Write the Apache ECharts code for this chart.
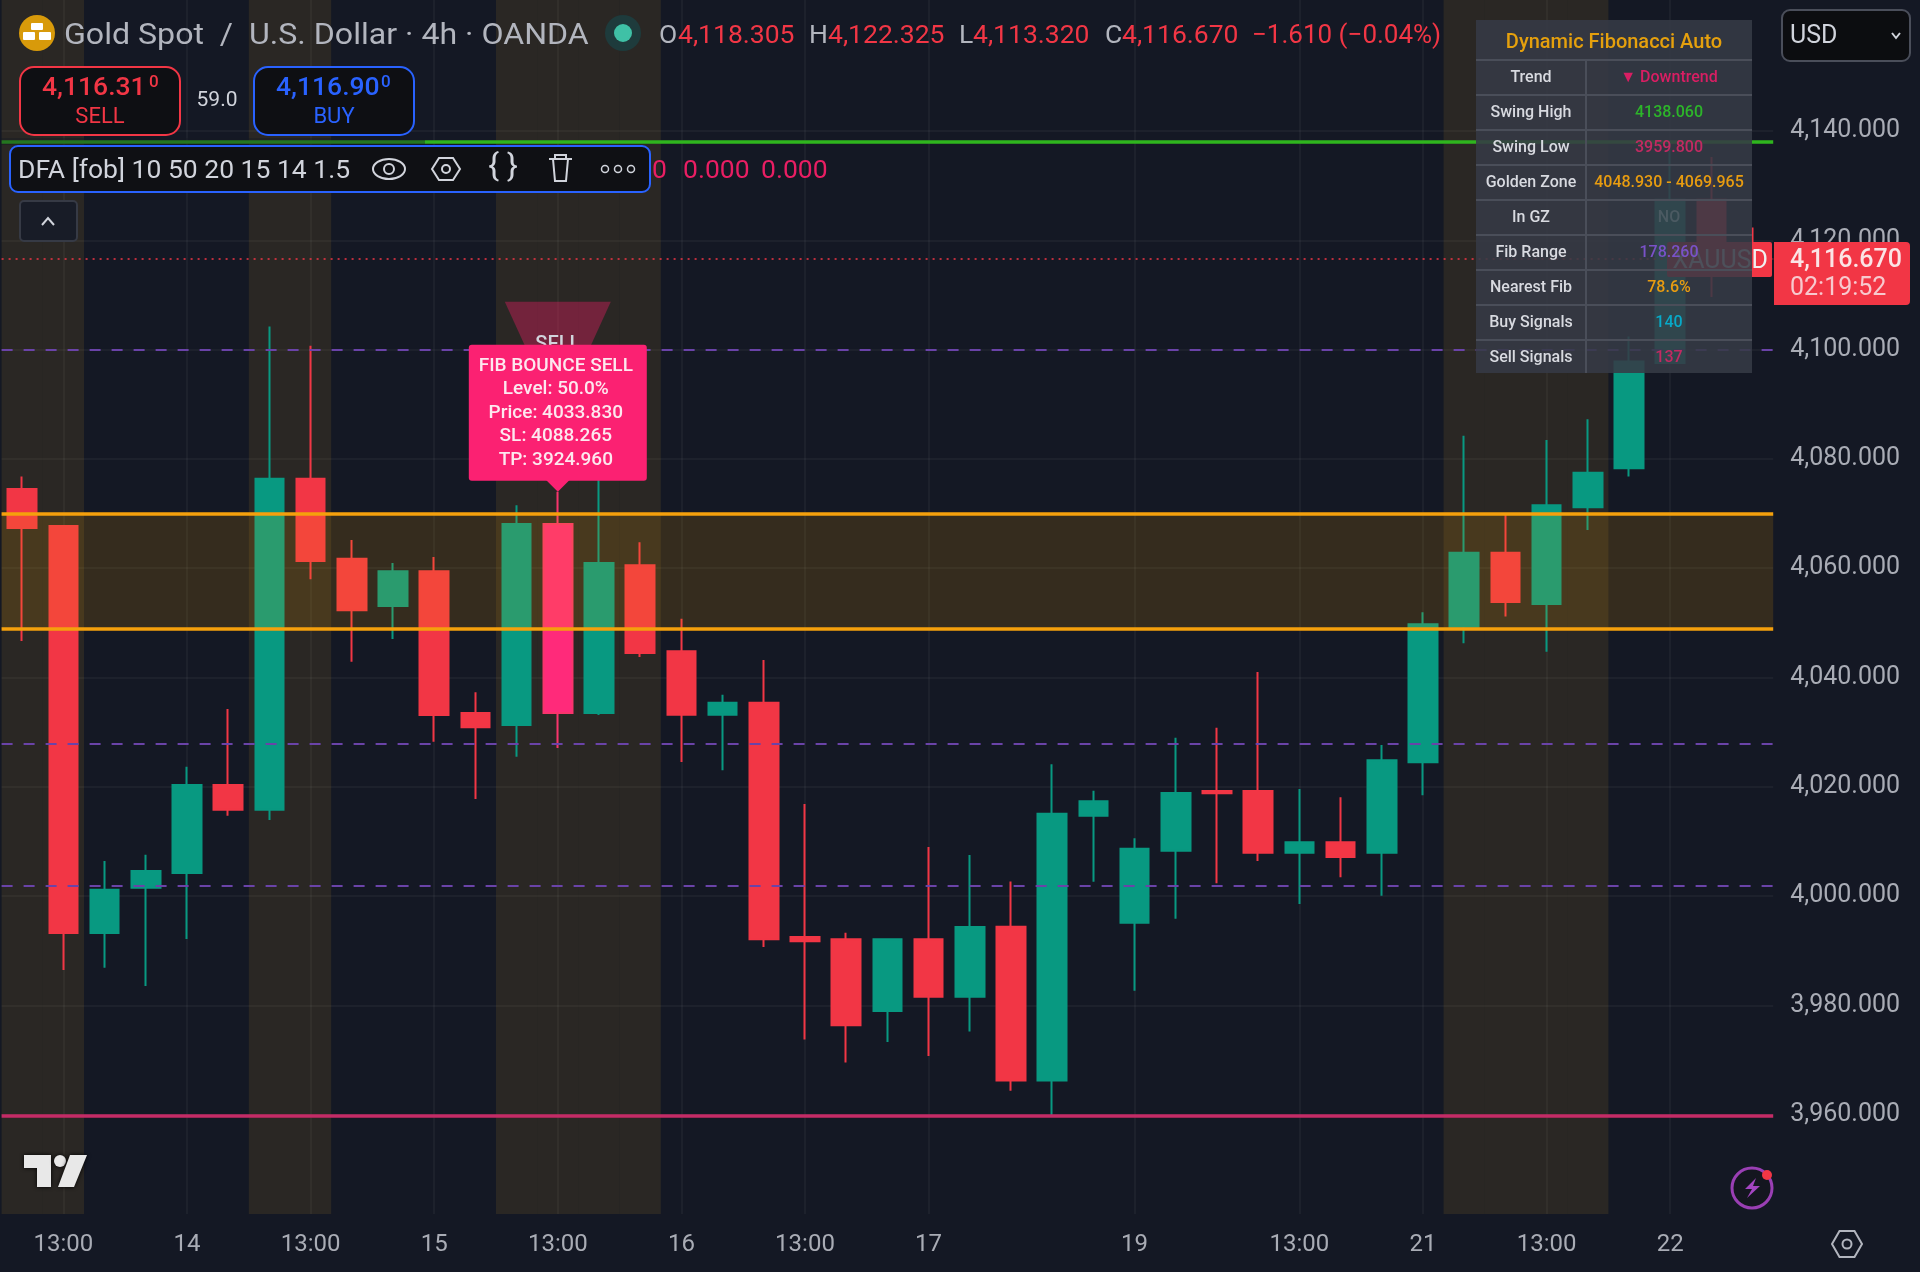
<!DOCTYPE html>
<html>
<head>
<meta charset="utf-8">
<title>Gold Spot / U.S. Dollar 4h</title>
<script src="https://cdn.jsdelivr.net/npm/echarts@6/dist/echarts.min.js"></script>
<style>
html,body{margin:0;padding:0;background:#141824;}
#chart{width:1920px;height:1272px;}
</style>
</head>
<body>
<div id="chart"></div>
<script>
// x axis labels, one per bar ('' = no label)
var timeLabels = ['','13:00','','','14','','','13:00','','','15','','','13:00','','','16','','','13:00','','','17','','','','','19','','','','13:00','','','21','','','13:00','','','22','',''];

// [open, close, low, high]
var candles = [
    [4074.50,4067.36,4046.68,4076.75],
    [4067.72,3993.24,3986.47,4067.72],
    [3993.24,4001.16,3986.89,4006.41],
    [4001.53,4004.58,3983.54,4007.57],
    [4004.22,4020.32,3992.14,4023.67],
    [4020.32,4015.80,4014.70,4034.23],
    [4015.80,4076.38,4013.92,4104.20],
    [4076.38,4061.32,4057.97,4100.72],
    [4061.74,4052.30,4042.89,4065.16],
    [4053.08,4059.43,4047.04,4060.95],
    [4059.43,4033.13,4028.25,4062.05],
    [4033.50,4030.88,4017.76,4037.29],
    [4031.30,4068.09,4025.50,4071.51],
    [4068.09,4033.50,4027.10,4074.00],
    [4033.50,4060.95,4033.13,4077.97],
    [4060.53,4044.48,4043.75,4064.72],
    [4044.77,4033.19,4024.53,4050.74],
    [4033.19,4035.35,4023.03,4036.85],
    [4035.35,3992.10,3990.67,4043.20],
    [3992.50,3991.74,3973.73,4016.85],
    [3992.10,3976.34,3969.55,3993.29],
    [3978.96,3992.10,3973.29,3992.10],
    [3992.10,3981.58,3970.74,4008.98],
    [3981.58,3994.34,3975.23,4007.51],
    [3994.39,3966.24,3964.36,4002.64],
    [3966.24,4015.07,3959.93,4024.11],
    [4014.70,4017.34,4002.63,4019.28],
    [3995.12,4008.67,3982.68,4010.57],
    [4008.30,4018.86,3995.85,4028.98],
    [4019.23,4018.80,4002.33,4030.81],
    [4019.23,4007.93,4006.41,4041.00],
    [4007.93,4009.84,3998.54,4019.59],
    [4009.84,4007.15,4003.43,4018.07],
    [4007.93,4024.84,4000.06,4027.64],
    [4024.48,4049.73,4018.44,4051.93],
    [4049.29,4062.84,4046.26,4084.25],
    [4062.84,4053.82,4051.13,4069.92],
    [4053.45,4071.51,4044.72,4083.46],
    [4071.15,4077.48,4066.99,4087.25],
    [4078.29,4097.80,4076.75,4102.37],
    [4097.56,4127.40,4097.56,4138.06],
    [4127.40,4119.70,4109.63,4135.26],
    [4118.305,4116.67,4113.32,4122.325]
];

var priceTicks = [3960,3980,4000,4020,4040,4060,4080,4100,4120,4140];
var yMin = 3941.81, yMax = 4163.97;

var swingHigh = 4138.06, swingLow = 3959.8;
var goldenZone = [4048.93, 4069.965];
var fibLevels = [4099.91, 4027.90, 4001.87];
var lastPrice = 4116.67;

// bars inside the shaded sessions
var sessionBars = [0,1,6,7,12,13,14,15,35,36,37,38];
var signalBar = 13;

var tableTitle = 'Dynamic Fibonacci Auto';
var tableNames = ['Trend','Swing High','Swing Low','Golden Zone','In GZ','Fib Range','Nearest Fib','Buy Signals','Sell Signals'];
var tableValues = ['▼ Downtrend','4138.060','3959.800','4048.930 - 4069.965','NO','178.260','78.6%','140','137'];
var tableColors = ['#d91e63','#2db52a','#c22a62','#e89c10','#4b5a62','#7a52c8','#e89c10','#08a9c8','#c22a62'];
var signalLines = ['FIB BOUNCE SELL','Level: 50.0%','Price: 4033.830','SL: 4088.265','TP: 3924.960'];

var FONT = 'Roboto, "Liberation Sans", sans-serif';
var RED = '#f23645', GREEN = '#089981', BLUE = '#2962ff', PINK = '#e91e63', TOP = 100;

function text(x, y, str, size, fill, align, weight, z){
    return {type:'text', z:z||TOP+2, silent:true, style:{
        text:str, x:x, y:y+2, fill:fill, align:align||'left', verticalAlign:'middle',
        font:(weight||'normal')+' '+size+'px '+FONT
    }};
}
function rect(x, y, w, h, fill, stroke, r, lw, z){
    return {type:'rect', z:z||TOP, silent:true, shape:{x:x,y:y,width:w,height:h,r:r||0},
        style:{fill:fill||'none', stroke:stroke||'none', lineWidth:lw||1}};
}
function circle(x, y, r, fill, stroke, lw, z){
    return {type:'circle', z:z||TOP+1, silent:true, shape:{cx:x,cy:y,r:r},
        style:{fill:fill||'none', stroke:stroke||'none', lineWidth:lw||1}};
}
function poly(points, fill, stroke, lw, z){
    return {type:'polygon', z:z||TOP+1, silent:true, shape:{points:points},
        style:{fill:fill||'none', stroke:stroke||'none', lineWidth:lw||1}};
}
function pline(points, stroke, lw, z){
    return {type:'polyline', z:z||TOP+1, silent:true, shape:{points:points},
        style:{fill:'none', stroke:stroke, lineWidth:lw||2}};
}
function hexagon(cx, cy, rx, ry, stroke, lw){
    return poly([[cx-rx,cy],[cx-rx/2,cy-ry],[cx+rx/2,cy-ry],[cx+rx,cy],[cx+rx/2,cy+ry],[cx-rx/2,cy+ry]], null, stroke, lw);
}

function buildHeader(){
    var g = [];
    // symbol line
    g.push(circle(37,33,18,'#d89a0a'));
    g.push(rect(31,23,12,7,'#fff',null,1,1,TOP+2), rect(23,32,12,8,'#fff',null,1,1,TOP+2), rect(39,32,12,8,'#fff',null,1,1,TOP+2));
    var title = text(64,34,'Gold Spot  /  U.S. Dollar · 4h · OANDA',30,'#b2b5be');
    title.x = 64; title.style.x = 0; title.y = 0; title.scaleX = 1.07; title.originX = 0;
    g.push(title);
    g.push(circle(623,33,18,'#1e3b3c'), circle(623,33,9,'#3fc1a6',null,1,TOP+2));
    g.push(text(659,34,'O',26.5,'#b2b5be'), text(678,34,'4,118.305',26.5,RED));
    g.push(text(809,34,'H',26.5,'#b2b5be'), text(828,34,'4,122.325',26.5,RED));
    g.push(text(959,34,'L',26.5,'#b2b5be'), text(973,34,'4,113.320',26.5,RED));
    g.push(text(1105,34,'C',26.5,'#b2b5be'), text(1122,34,'4,116.670',26.5,RED));
    g.push(text(1252,34,'−1.610 (−0.04%)',26,RED));

    // sell / buy buttons
    g.push(rect(20,67,160,68,'#0e0f13',RED,14,2));
    g.push(text(42,86,'4,116.31',26.5,RED,'left','500'), text(149,81,'0',17,RED,'left','500'));
    g.push(text(100,115,'SELL',22,RED,'center'));
    g.push(text(217,99,'59.0',21,'#d1d4dc','center'));
    g.push(rect(254,67,160,68,'#0e0f13',BLUE,14,2));
    g.push(text(276,86,'4,116.90',26.5,BLUE,'left','500'), text(381,81,'0',17,BLUE,'left','500'));
    g.push(text(334,115,'BUY',22,BLUE,'center'));

    // dim the swing high line under the header
    g.push(rect(0,138,425,7,'rgba(20,24,36,0.4)',null,0,1,TOP-1));

    // indicator row
    g.push(text(652,169,'0',26.5,PINK), text(683,169,'0.000',26.5,PINK), text(761,169,'0.000',26.5,PINK));
    g.push(rect(10,146,640,46,'#0f1014',BLUE,8,2));
    g.push(text(18,169,'DFA [fob] 10 50 20 15 14 1.5',26.5,'#d1d4dc'));
    g.push({type:'ellipse', z:TOP+1, silent:true, shape:{cx:389,cy:169,rx:16,ry:10}, style:{fill:'none',stroke:'#d1d4dc',lineWidth:2}});
    g.push(circle(389,169,5,null,'#d1d4dc',2));
    g.push(hexagon(446,169,14,11,'#d1d4dc',2), circle(446,169,4,null,'#d1d4dc',2));
    g.push(text(503,166,'{ }',32,'#d1d4dc','center'));
    g.push(pline([[549,159],[572,159]],'#d1d4dc',2), pline([[555,159],[555,155],[566,155],[566,159]],'#d1d4dc',2));
    g.push(pline([[553,159],[555,181],[566,181],[568,159]],'#d1d4dc',2));
    g.push(circle(605,169,3.5,null,'#d1d4dc',1.5), circle(618,169,3.5,null,'#d1d4dc',1.5), circle(631,169,3.5,null,'#d1d4dc',1.5));

    // collapse button
    g.push(rect(20,201,57,40,'#181c27','#363a45',4,2));
    g.push(pline([[42,225],[48,218],[54,225]],'#d1d4dc',2));

    // currency select
    g.push(rect(1782,10,128,51,'#0c0d10','#4a4e5a',8,2));
    g.push(text(1790,35,'USD',25,'#d1d4dc'));
    g.push(pline([[1892,33],[1896,38],[1900,33]],'#d1d4dc',2));
    return g;
}

function buildPriceTag(){
    var g = [];
    var tagTop = 242;
    g.push(rect(1667,tagTop,105,35,RED,null,2,1,TOP-2));
    g.push(text(1768,tagTop+18,'XAUUSD',25,'#f0f0f0','right','normal',TOP-2));
    g.push({type:'rect', z:TOP, silent:true, shape:{x:1774,y:tagTop,width:136,height:63,r:[0,4,4,0]}, style:{fill:RED}});
    g.push(text(1790,259,lastPrice.toLocaleString('en-US',{minimumFractionDigits:3}),25,'#fbe4e6','left','500'));
    g.push(text(1790,287,'02:19:52',25,'#f7c9ce'));
    return g;
}

function buildTable(){
    var g = [], left = 1476, right = 1752, split = 1586, rowH = 35;
    g.push(rect(left,20,right-left,353,'rgba(54,58,69,0.88)',null,0,1,TOP));
    g.push(text((left+right)/2,41,tableTitle,20,'#e5a00d','center','500'));
    for (var i = 0; i < tableNames.length; i++) {
        var lineY = 60 + rowH*i, midY = 76 + rowH*i;
        g.push(rect(left,lineY-1,right-left,2,'#4a4e59',null,0,1,TOP+1));
        g.push(text(1531,midY,tableNames[i],16,'#d8dae0','center','500'));
        g.push(text(1669,midY,tableValues[i],16,tableColors[i],'center','500'));
    }
    g.push(rect(split-1,60,2,313,'#4a4e59',null,0,1,TOP+1));
    return g;
}

function buildCorners(){
    var g = [];
    // tv logo
    var logo = [
        poly([[24,1155],[51,1155],[51,1187],[37,1187],[37,1168],[24,1168]],'#e8e8e8'),
        circle(60,1161,6,'#e8e8e8'),
        poly([[70,1155],[87,1155],[74,1187],[58,1187]],'#e8e8e8')
    ];
    logo.forEach(function(el){ el.style.shadowBlur = 4; el.style.shadowColor = '#000'; g.push(el); });
    // lightning badge
    g.push(circle(1752,1188,20,'#14161f','#9a3fb4',3));
    g.push(poly([[1756,1178],[1745,1189],[1752,1189],[1747,1198],[1760,1186],[1753,1186]],'#a445c2'));
    g.push(circle(1767,1175,5,RED,null,1,TOP+2));
    // settings
    g.push(hexagon(1847,1244,15,13,'#b2b5be',2), circle(1847,1244,4.5,null,'#b2b5be',2));
    return g;
}

function renderSignal(params, api){
    var pt = api.coord([api.value(0), api.value(1)]);
    var x = pt[0], tip = pt[1];
    var kids = [
        {type:'polygon', shape:{points:[[x-53,tip-190],[x+53,tip-190],[x,tip-74]]}, style:{fill:'rgba(233,30,99,0.38)'}},
        {type:'text', style:{text:'SELL', x:x, y:tip-147, align:'center', verticalAlign:'middle', fill:'#d1d4dc', font:'500 20px '+FONT}},
        {type:'polygon', shape:{points:[[x-12,tip-12],[x+12,tip-12],[x,tip]]}, style:{fill:'#fb2172'}},
        {type:'rect', shape:{x:x-89,y:tip-147,width:178,height:136,r:3}, style:{fill:'#fb2172'}}
    ];
    signalLines.forEach(function(line, i){
        kids.push({type:'text', style:{text:line, x:x-2, y:tip-125.5+23.5*i, align:'center', verticalAlign:'middle', fill:'#fde8ef', font:'500 19px '+FONT}});
    });
    return {type:'group', children:kids};
}

var candleData = candles.map(function(c, i){
    if (i === signalBar) {
        return {value:c, itemStyle:{color:'#ff2a7a',color0:'#ff2a7a',borderColor:'#f8346c',borderColor0:'#f8346c'}};
    }
    return c;
});

var sessionData = timeLabels.map(function(l, i){
    return sessionBars.indexOf(i) > -1 ? yMax : null;
});

var grayLine = {color:'rgba(255,255,255,0.055)', width:1.5};
var hasLabel = function(i){ return !!timeLabels[i]; };
var levelStyle = function(color){ return {color:color, width:3.5, type:'solid'}; };
var fibStyle = {color:'#6a43a8', width:2, type:[11,11]};

var option = {
    animation: false,
    backgroundColor: '#141824',
    grid: {left:1.6, right:146.8, top:0, bottom:58, containLabel:false},
    xAxis: {
        type:'category',
        data: timeLabels,
        boundaryGap:true,
        axisLine:{show:false},
        axisTick:{show:false},
        axisLabel:{interval:function(i){ return hasLabel(i); }, color:'#a9acb5', fontSize:24, fontFamily:FONT, margin:19},
        splitLine:{show:true, alignWithLabel:true, interval:function(i){ return hasLabel(i); }, lineStyle:grayLine}
    },
    yAxis: {
        type:'value',
        position:'right',
        min:yMin,
        max:yMax,
        axisLine:{show:false},
        axisTick:{show:false, customValues:priceTicks},
        axisLabel:{
            customValues:priceTicks, color:'#a9acb5', fontSize:25, fontFamily:FONT, margin:17,
            padding:[0,0,2,0],
            formatter:function(v){ return v.toLocaleString('en-US',{minimumFractionDigits:3}); }
        },
        splitLine:{show:true, lineStyle:grayLine}
    },
    series: [
        {
            name:'sessions', type:'bar', data:sessionData, barWidth:'100%', z:1, silent:true,
            itemStyle:{color:'rgba(255,190,40,0.095)'}
        },
        {
            name:'XAUUSD', type:'candlestick', data:candleData, barWidth:29, z:2, silent:true,
            itemStyle:{color:GREEN, color0:RED, borderColor:GREEN, borderColor0:RED, borderWidth:2}
        },
        {
            name:'levels', type:'line', data:[], z:3, silent:true,
            markArea:{
                silent:true, z:3,
                itemStyle:{color:'rgba(255,170,0,0.14)'},
                data:[[{yAxis:goldenZone[0]},{yAxis:goldenZone[1]}]]
            },
            markLine:{
                silent:true, z:5, symbol:'none', label:{show:false},
                data:[
                    {yAxis:swingHigh, lineStyle:levelStyle('#2fb51e')},
                    {yAxis:swingLow, lineStyle:levelStyle('#c42b66')},
                    {yAxis:goldenZone[0], lineStyle:levelStyle('#f5a00c')},
                    {yAxis:goldenZone[1], lineStyle:levelStyle('#f5a00c')},
                    {yAxis:fibLevels[0], lineStyle:fibStyle},
                    {yAxis:fibLevels[1], lineStyle:fibStyle},
                    {yAxis:fibLevels[2], lineStyle:fibStyle},
                    {yAxis:lastPrice, lineStyle:{color:'#f23645',width:2,type:[2,5],opacity:0.75}}
                ]
            }
        },
        {
            name:'signal', type:'custom', z:10, silent:true, clip:false,
            data:[[signalBar, candles[signalBar][3]]],
            renderItem:renderSignal
        }
    ],
    graphic: {elements: [].concat(buildHeader(), buildPriceTag(), buildTable(), buildCorners())}
};

var myChart = echarts.init(document.getElementById('chart'));
myChart.setOption(option);
</script>
</body>
</html>
